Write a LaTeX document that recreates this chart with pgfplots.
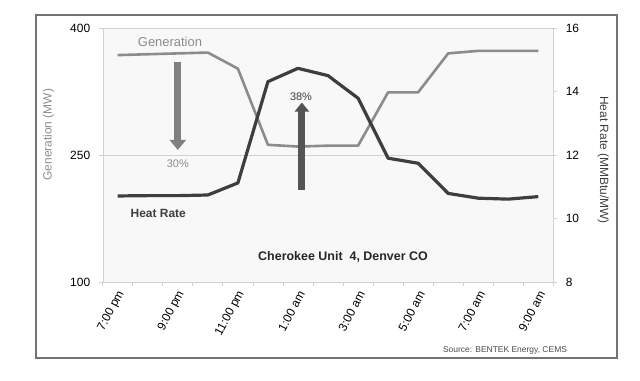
\documentclass[border=0pt]{standalone}
\usepackage{pgfplots}
\pgfplotsset{compat=1.18}
\usepackage{fontspec}
\setmainfont{Liberation Sans}
\usetikzlibrary{arrows.meta}
\definecolor{gen}{HTML}{8C8C8C}
\definecolor{heat}{HTML}{3E3E3E}
\definecolor{frame}{HTML}{D2D2D2}
\definecolor{bg}{HTML}{F8F8F8}
\definecolor{genarrow}{HTML}{808080}
\definecolor{heatarrow}{HTML}{555555}

\pgfplotstableread{
x gen heat
0 368 10.71
1 369 10.72
2 370 10.72
3 371 10.74
4 352 11.12
5 262 14.31
6 260 14.73
7 261 14.50
8 261 13.79
9 324 11.90
10 324 11.74
11 370 10.79
12 373 10.64
13 373 10.61
14 373 10.69
}\datatable

\begin{document}
\begin{tikzpicture}[x=1bp,y=1bp]
\path[use as bounding box] (0,0) rectangle (640,380);
\draw[draw=black!55, line width=1.2bp] (36,22) rectangle (617,365);
\pgfplotsset{
  common/.style={
    scale only axis, width=450.6bp, height=254bp,
    at={(102.7bp,98bp)}, anchor=south west,
    xmin=-0.5, xmax=14.5,
    tick label style={font=\fontsize{12}{14}\selectfont, /pgf/number format/assume math mode=true},
    axis line style={frame},
    every tick/.style={frame, line width=0.8bp},
  }
}
\begin{axis}[common,
  axis background/.style={fill=bg},
  ymin=100, ymax=400, ytick={100,250,400},
  ytick pos=left, xtick pos=bottom,
  tick align=outside,
  major tick length=4bp, minor tick length=4bp,
  ymajorgrids, grid style={frame, line width=0.8bp},
  yticklabel style={xshift=-5bp},
  xtick={0,2,...,14},
  xticklabels={7:00 pm,9:00 pm,11:00 pm,1:00 am,3:00 am,5:00 am,7:00 am,9:00 am},
  x tick label style={rotate=62, anchor=east, yshift=-6bp},
  major x tick style={draw=none},
  minor xtick={-0.5,0.5,...,14.5},
  ylabel={Generation (MW)},
  ylabel style={at={(axis description cs:-0.12,0.58)}, anchor=center, text=gen, font=\fontsize{12}{14}\selectfont},
  clip=false,
]
\addplot[gen, line width=2.6bp, line join=round] table[x=x, y=gen] {\datatable};
\draw[genarrow, line width=7bp, -{Triangle[width=16bp,length=10bp]}] (axis cs:2,360) -- (axis cs:2,256);
\draw[heatarrow, line width=7bp, -{Triangle[width=14bp,length=9bp]}] (axis cs:6.13,209) -- (axis cs:6.13,312);
\node[text=gen, font=\fontsize{11}{13}\selectfont] at (axis cs:2,240) {30\%};
\node[text=heat, font=\fontsize{11}{13}\selectfont] at (axis cs:6.1,319) {38\%};
\node[text=gen, font=\fontsize{13}{15}\selectfont] at (axis cs:1.74,384) {Generation};
\node[text=heat, font=\bfseries\fontsize{12}{14}\selectfont] at (axis cs:1.35,181) {Heat Rate};
\node[text=black!85, font=\bfseries\fontsize{12.5}{15}\selectfont] at (axis cs:7.5,130) {Cherokee Unit~~4, Denver CO};
\end{axis}
\begin{axis}[common,
  ymin=8, ymax=16, ytick={8,10,12,14,16},
  axis x line=none, axis y line*=right,
  tick align=outside, major tick length=4bp,
  yticklabel style={xshift=5bp},
  ylabel={Heat Rate (MMBtu/MW)},
  ylabel style={at={(axis description cs:1.111,0.48)}, anchor=center, rotate=180, text=heat, font=\fontsize{12}{14}\selectfont},
]
\addplot[heat, line width=3.2bp, line join=round] table[x=x, y=heat] {\datatable};
\end{axis}
\node[text=black!70, font=\fontsize{8.5}{10}\selectfont] at (505,30) {Source: BENTEK Energy, CEMS};
\end{tikzpicture}
\end{document}
